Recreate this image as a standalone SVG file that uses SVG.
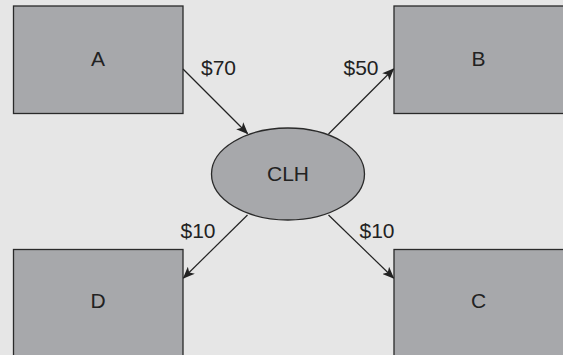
<svg xmlns="http://www.w3.org/2000/svg" width="563" height="355" viewBox="0 0 563 355">
<style>
.box{fill:#a7a8ab;stroke:#2a2a2a;stroke-width:1.3}
.lbl{font-family:"Liberation Sans",Arial,sans-serif;font-size:21px;fill:#222;text-anchor:middle}
.edge{stroke:#222;stroke-width:1.2;fill:none;marker-end:url(#ah)}
</style>
<defs>
<marker id="ah" viewBox="0 0 12 10" refX="11" refY="5" markerWidth="12" markerHeight="10" markerUnits="userSpaceOnUse" orient="auto">
<path d="M0,0 L12,5 L0,10 L3,5 Z" fill="#222"/>
</marker>
</defs>
<rect x="0" y="0" width="563" height="355" fill="#e6e6e6"/>
<g id="nodeA"><rect class="box" x="13.5" y="6" width="169.5" height="107.5"/><text class="lbl" x="98" y="66">A</text></g>
<g id="nodeB"><rect class="box" x="394" y="6" width="175" height="107.5"/><text class="lbl" x="478.5" y="66">B</text></g>
<g id="nodeD"><rect class="box" x="13.5" y="249.5" width="169.5" height="112"/><text class="lbl" x="98" y="308">D</text></g>
<g id="nodeC"><rect class="box" x="394" y="249.5" width="175" height="112"/><text class="lbl" x="478.5" y="308">C</text></g>
<g id="nodeCLH"><ellipse class="box" cx="288" cy="174" rx="76.5" ry="46"/><text class="lbl" x="288" y="181">CLH</text></g>
<g id="connectors">
<line class="edge" x1="183" y1="69" x2="247.5" y2="133.5"/>
<line class="edge" x1="328.5" y1="134" x2="393.5" y2="69"/>
<line class="edge" x1="247.5" y1="215" x2="183.5" y2="278"/>
<line class="edge" x1="328.5" y1="215" x2="393.5" y2="278"/>
<text class="lbl" x="218.5" y="75">$70</text>
<text class="lbl" x="361" y="75">$50</text>
<text class="lbl" x="198" y="238">$10</text>
<text class="lbl" x="377" y="238">$10</text>
</g>
</svg>
